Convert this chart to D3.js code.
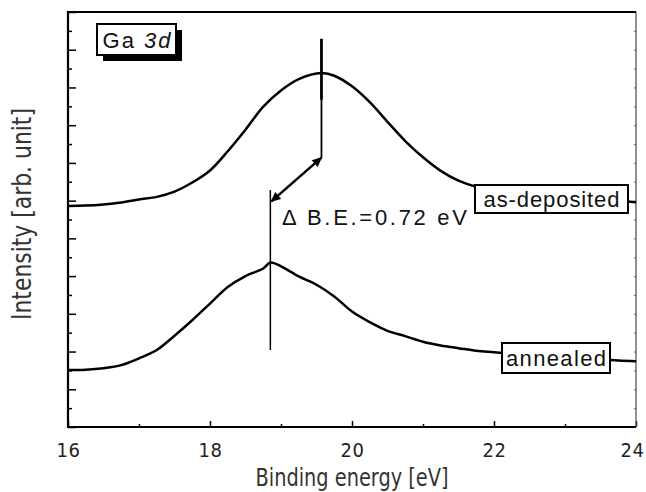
<!DOCTYPE html>
<html>
<head>
<meta charset="utf-8">
<script src="https://cdn.jsdelivr.net/npm/d3@7/dist/d3.min.js"></script>
<style>
  html, body { margin: 0; padding: 0; background: #fff; }
  svg { display: block; }
  .lbl { font-family: "Liberation Sans", Arial, sans-serif; fill: #111; }
  .narrow { font-family: "Liberation Sans Narrow", "DejaVu Sans Condensed", "Liberation Sans", sans-serif; }
</style>
</head>
<body>
<svg id="chart" width="646" height="492"></svg>
<script>
// Ga 3d core-level spectra: binding energy (eV) vs intensity (arb. unit)
const energyTicks = [16, 18, 20, 22, 24];
const energyMinorTicks = [17, 19, 21, 23];

const asDepositedEnergy = [16.0, 16.25, 16.5, 16.75, 17.0, 17.25, 17.5, 17.75, 18.0, 18.25, 18.5, 18.75,
  19.0, 19.25, 19.57, 19.75, 20.0, 20.25, 20.5, 20.75, 21.0, 21.25, 21.5, 21.75, 22.0, 22.25, 22.5,
  22.75, 23.0, 23.25, 23.5, 23.75, 24.0];
const asDepositedIntensity = [5.86, 5.87, 5.90, 5.95, 6.03, 6.10, 6.24, 6.48, 6.80, 7.31, 7.88, 8.49,
  8.92, 9.22, 9.38, 9.31, 9.03, 8.61, 8.09, 7.58, 7.15, 6.79, 6.53, 6.37, 6.31, 6.24, 6.19,
  6.14, 6.10, 6.06, 6.03, 5.99, 5.96];

const annealedEnergy = [16.0, 16.25, 16.5, 16.75, 17.0, 17.25, 17.5, 17.75, 18.0, 18.25, 18.5, 18.75,
  18.85, 19.0, 19.25, 19.5, 19.75, 20.0, 20.25, 20.5, 20.75, 21.0, 21.25, 21.5, 21.75, 22.0, 22.25,
  22.5, 22.75, 23.0, 23.25, 23.5, 23.75, 24.0];
const annealedIntensity = [1.51, 1.52, 1.56, 1.64, 1.82, 2.04, 2.42, 2.83, 3.27, 3.71, 4.00, 4.20,
  4.36, 4.26, 3.99, 3.77, 3.46, 3.06, 2.78, 2.55, 2.41, 2.26, 2.16, 2.09, 2.02, 1.98, 1.94,
  1.90, 1.86, 1.83, 1.80, 1.79, 1.76, 1.74];

// Peak positions marked on the plot and their binding-energy shift
const peakAsDeposited = 19.57;
const peakShift = 0.72;
const peakAnnealed = +(peakAsDeposited - peakShift).toFixed(2);

const svg = d3.select("#chart");
const x = d3.scaleLinear().domain([16, 24]).range([68, 636]);
const y = d3.scaleLinear().domain([0, 11]).range([427, 12]);

// ---- axes (ticks point into the plot) ----
const bottom = svg.append("g").attr("transform", `translate(0,${y(0)})`)
  .call(d3.axisBottom(x).tickValues(energyTicks).tickSizeInner(-6).tickSizeOuter(0).tickPadding(16));
bottom.select(".domain").remove();
bottom.selectAll("line").attr("stroke", "#000").attr("stroke-width", 1.5);
bottom.selectAll("text").attr("class", "narrow").attr("font-size", 20).attr("fill", "#222")
  .attr("letter-spacing", 0.5).attr("font-family", null)
  .attr("dx", d => d === 24 ? -4 : 0);

const bottomMinor = svg.append("g").attr("transform", `translate(0,${y(0)})`)
  .call(d3.axisBottom(x).tickValues(energyMinorTicks).tickSizeInner(-3).tickSizeOuter(0).tickFormat(""));
bottomMinor.select(".domain").remove();
bottomMinor.selectAll("line").attr("stroke", "#000").attr("stroke-width", 1.5);

const left = svg.append("g").attr("transform", `translate(${x(16)},0)`)
  .call(d3.axisLeft(y).tickValues(d3.range(0, 12)).tickSizeInner(-8).tickSizeOuter(0).tickFormat(""));
left.select(".domain").remove();
left.selectAll("line").attr("stroke", "#000").attr("stroke-width", 1.5);

const leftMinor = svg.append("g").attr("transform", `translate(${x(16)},0)`)
  .call(d3.axisLeft(y).tickValues(d3.range(0.5, 11, 1)).tickSizeInner(-4).tickSizeOuter(0).tickFormat(""));
leftMinor.select(".domain").remove();
leftMinor.selectAll("line").attr("stroke", "#000").attr("stroke-width", 1.5);

const right = svg.append("g").attr("transform", `translate(${x(24)},0)`)
  .call(d3.axisRight(y).tickValues(d3.range(0, 11.5, 0.5)).tickSizeInner(-2).tickSizeOuter(0).tickFormat(""));
right.select(".domain").remove();
right.selectAll("line").attr("stroke", "#666").attr("stroke-width", 1);

// frame
svg.append("line").attr("x1", x(24)).attr("x2", x(24)).attr("y1", y(11)).attr("y2", y(0))
  .attr("stroke", "#555").attr("stroke-width", 1.3);
svg.append("line").attr("x1", x(16)).attr("x2", x(24)).attr("y1", y(11)).attr("y2", y(11))
  .attr("stroke", "#000").attr("stroke-width", 2);
svg.append("line").attr("x1", x(16)).attr("x2", x(16)).attr("y1", y(11) - 1).attr("y2", y(0) + 1)
  .attr("stroke", "#000").attr("stroke-width", 2.2);
svg.append("line").attr("x1", x(16) - 1).attr("x2", x(24)).attr("y1", y(0)).attr("y2", y(0))
  .attr("stroke", "#000").attr("stroke-width", 2.2);

// ---- axis titles ----
svg.append("text").attr("class", "narrow").attr("font-size", 24).attr("fill", "#333")
  .attr("x", (x(16) + x(24)) / 2).attr("y", 486).attr("text-anchor", "middle")
  .attr("textLength", 193).attr("lengthAdjust", "spacingAndGlyphs")
  .text("Binding energy [eV]");

svg.append("text").attr("class", "narrow").attr("font-size", 27).attr("fill", "#333")
  .attr("transform", "translate(31,214) rotate(-90)").attr("text-anchor", "middle")
  .attr("textLength", 212).attr("lengthAdjust", "spacingAndGlyphs")
  .text("Intensity [arb. unit]");

// ---- spectra ----
const line = d3.line().x(d => x(d[0])).y(d => y(d[1])).curve(d3.curveCatmullRom.alpha(0.5));
const series = [
  d3.zip(asDepositedEnergy, asDepositedIntensity),
  d3.zip(annealedEnergy, annealedIntensity)
];
svg.append("g").selectAll("path").data(series).join("path")
  .attr("d", line).attr("fill", "none").attr("stroke", "#000")
  .attr("stroke-width", 2.5).attr("stroke-linejoin", "round");

// ---- peak markers and shift arrow ----
const defs = svg.append("defs");
defs.append("marker").attr("id", "head").attr("viewBox", "0 0 10 10")
  .attr("refX", 9).attr("refY", 5).attr("markerUnits", "userSpaceOnUse")
  .attr("markerWidth", 11).attr("markerHeight", 10).attr("orient", "auto-start-reverse")
  .append("path").attr("d", "M0,0.5 L10,5 L0,9.5 Z").attr("fill", "#000");

const xa = x(peakAsDeposited), xb = x(peakAnnealed);
svg.append("line").attr("x1", xa).attr("x2", xa).attr("y1", y(10.29)).attr("y2", y(8.67))
  .attr("stroke", "#000").attr("stroke-width", 2.8);
svg.append("line").attr("x1", xa).attr("x2", xa).attr("y1", y(8.67)).attr("y2", y(7.14))
  .attr("stroke", "#000").attr("stroke-width", 1.8);
svg.append("line").attr("x1", xb).attr("x2", xb).attr("y1", y(6.28)).attr("y2", y(2.04))
  .attr("stroke", "#000").attr("stroke-width", 1.5);
svg.append("line").attr("x1", xa).attr("y1", y(7.14)).attr("x2", xb + 1).attr("y2", y(5.98))
  .attr("stroke", "#000").attr("stroke-width", 2.5)
  .attr("marker-start", "url(#head)").attr("marker-end", "url(#head)");

svg.append("text").attr("class", "lbl").attr("font-size", 22).attr("fill", "#222")
  .attr("x", 282).attr("y", 225).attr("textLength", 185).attr("lengthAdjust", "spacing")
  .text(`\u0394 B.E.=${peakShift.toFixed(2)} eV`);

// ---- boxed labels ----
function boxLabel(bx, by, w, h, parts, textLen, shadow) {
  const g = svg.append("g");
  if (shadow) {
    g.append("rect").attr("x", bx + 6).attr("y", by + 6).attr("width", w).attr("height", h).attr("fill", "#000");
  }
  g.append("rect").attr("x", bx).attr("y", by).attr("width", w).attr("height", h)
    .attr("fill", "#fff").attr("stroke", "#000").attr("stroke-width", 2);
  const t = g.append("text").attr("class", "lbl").attr("font-size", 22)
    .attr("x", bx + w / 2).attr("y", by + h / 2 + 8).attr("text-anchor", "middle")
    .attr("textLength", textLen).attr("lengthAdjust", "spacing");
  parts.forEach(p => t.append("tspan").attr("font-style", p.italic ? "italic" : null).text(p.text));
}
boxLabel(97, 24, 79, 31, [{text: "Ga "}, {text: "3d", italic: true}], 68, true);
boxLabel(475, 185, 153, 28, [{text: "as-deposited"}], 136, false);
boxLabel(502, 343, 108, 30, [{text: "annealed"}], 100, false);
</script>
</body>
</html>
